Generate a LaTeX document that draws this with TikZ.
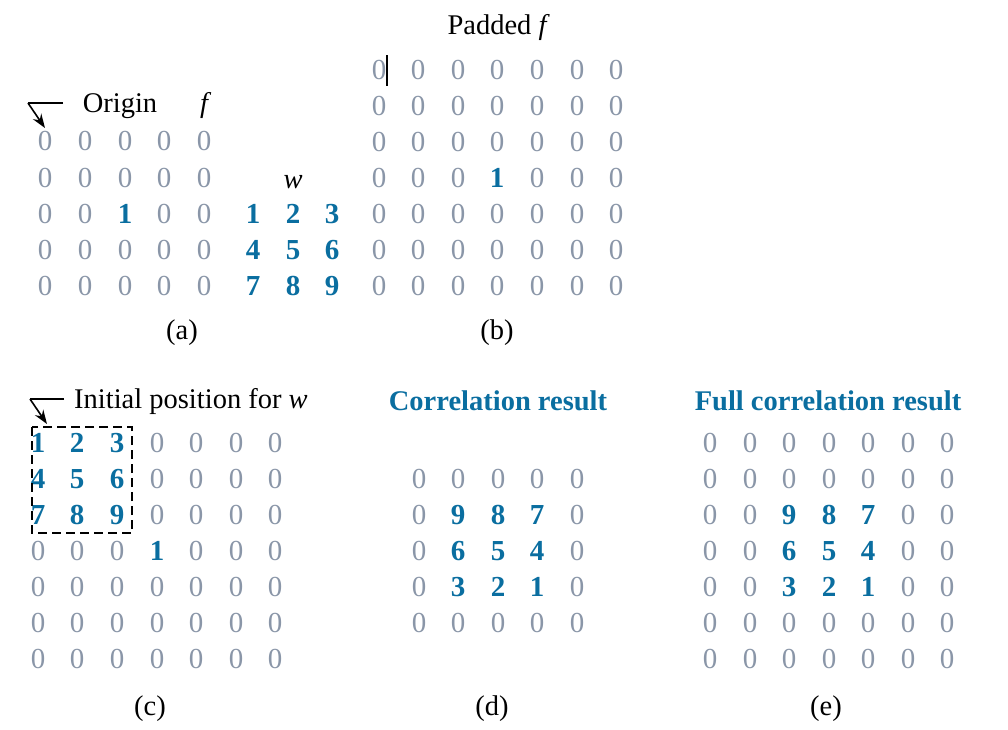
\documentclass[tikz,border=0pt]{standalone}
\usepackage{fontspec}
\setmainfont{Liberation Serif}
\usetikzlibrary{arrows.meta}
\definecolor{gz}{HTML}{8A96A8}
\definecolor{bl}{HTML}{0A6EA0}
\tikzset{
  zero/.style={text=gz,font=\fontsize{29}{30}\selectfont,inner sep=0pt},
  one/.style={text=bl,font=\fontsize{29}{30}\selectfont\bfseries,inner sep=0pt},
  ttl/.style={font=\fontsize{28.5}{30}\selectfont,inner sep=0pt,anchor=base},
  btl/.style={font=\fontsize{28.5}{30}\selectfont\bfseries,text=bl,inner sep=0pt,anchor=base},
  lbl/.style={font=\fontsize{28.5}{30}\selectfont,inner sep=0pt,anchor=base},
  seg/.style={line width=1.6pt},
  ptr/.style={line width=1.6pt,-{Stealth[length=14pt,width=10pt]}}
}
\begin{document}
\begin{tikzpicture}[x=1pt,y=-1pt]
\useasboundingbox (0,0) rectangle (1008,729);
% ---------- (a) ----------
\foreach \r [count=\i] in {141,178,214,250,286}
  \foreach \c [count=\j] in {45,85,125,164,204}{
    \ifnum\i=3 \ifnum\j=3
      \node[one] (a-\i-\j) at (\c,\r) {1};
    \else
      \node[zero] (a-\i-\j) at (\c,\r) {0};
    \fi\else
      \node[zero] (a-\i-\j) at (\c,\r) {0};
    \fi
  }
\node[ttl] (origin) at (120,112) {Origin};
\node[ttl] (fa) at (204,112) {\itshape f};
\coordinate (oa1) at (63,103);
\coordinate (oa2) at (28,103);
\coordinate (oa3) at (45,128);
\draw[seg] (oa1) -- (oa2);
\draw[ptr] (oa2) -- (oa3);
% w
\node[ttl] (wlab) at (293,188) {\itshape w};
\foreach \v/\r/\c in {1/214/253,2/214/293,3/214/332,4/250/253,5/250/293,6/250/332,7/286/253,8/286/293,9/286/332}
  \node[one] (w-\v) at (\c,\r) {\v};
\node[lbl] (la) at (182,339) {(a)};
% ---------- (b) ----------
\node[ttl] (padded) at (497,34) {Padded \itshape f};
\foreach \r [count=\i] in {70,106,142,178,214,250,286}
  \foreach \c [count=\j] in {379,418,458,497,537,577,616}{
    \ifnum\i=4 \ifnum\j=4
      \node[one] (b-\i-\j) at (\c,\r) {1};
    \else
      \node[zero] (b-\i-\j) at (\c,\r) {0};
    \fi\else
      \node[zero] (b-\i-\j) at (\c,\r) {0};
    \fi
  }
\coordinate (cur1) at (387,55);
\coordinate (cur2) at (387,86);
\draw[line width=1.2pt] (cur1) -- (cur2);
\node[lbl] (lb) at (497,339) {(b)};
% ---------- (c) ----------
\foreach \r [count=\i] in {443,479,515,551,587,623,659}
  \foreach \c [count=\j] in {38,77,117,157,196,236,275}{
    \pgfmathtruncatemacro{\inw}{(\i<4)&&(\j<4)}
    \ifnum\inw=1
      \pgfmathtruncatemacro{\val}{(\i-1)*3+\j}
      \node[one] (c-\i-\j) at (\c,\r) {\val};
    \else
      \ifnum\i=4 \ifnum\j=4
        \node[one] (c-\i-\j) at (\c,\r) {1};
      \else
        \node[zero] (c-\i-\j) at (\c,\r) {0};
      \fi\else
        \node[zero] (c-\i-\j) at (\c,\r) {0};
      \fi
    \fi
  }
\draw[line width=1.7pt,dash pattern=on 9pt off 5pt] (32,427) rectangle (132,533);
\node[ttl,anchor=base west] (init) at (74,408) {Initial position for \itshape w};
\coordinate (ia1) at (64,399);
\coordinate (ia2) at (30,399);
\coordinate (ia3) at (47,424);
\draw[seg] (ia1) -- (ia2);
\draw[ptr] (ia2) -- (ia3);
\node[lbl] (lc) at (150,715) {(c)};
% ---------- (d) ----------
\node[btl] (corr) at (498,410) {Correlation result};
\foreach \r [count=\i] in {479,515,551,587,623}
  \foreach \c [count=\j] in {419,458,498,537,577}{
    \pgfmathtruncatemacro{\inn}{(\i>1)&&(\i<5)&&(\j>1)&&(\j<5)}
    \ifnum\inn=1
      \pgfmathtruncatemacro{\val}{10-((\i-2)*3+(\j-1))}
      \node[one] (d-\i-\j) at (\c,\r) {\val};
    \else
      \node[zero] (d-\i-\j) at (\c,\r) {0};
    \fi
  }
\node[lbl] (ld) at (492,715) {(d)};
% ---------- (e) ----------
\node[btl] (fcorr) at (828,410) {Full correlation result};
\foreach \r [count=\i] in {443,479,515,551,587,623,659}
  \foreach \c [count=\j] in {710,750,789,829,868,908,947}{
    \pgfmathtruncatemacro{\inn}{(\i>2)&&(\i<6)&&(\j>2)&&(\j<6)}
    \ifnum\inn=1
      \pgfmathtruncatemacro{\val}{10-((\i-3)*3+(\j-2))}
      \node[one] (e-\i-\j) at (\c,\r) {\val};
    \else
      \node[zero] (e-\i-\j) at (\c,\r) {0};
    \fi
  }
\node[lbl] (le) at (826,715) {(e)};
\end{tikzpicture}
\end{document}
